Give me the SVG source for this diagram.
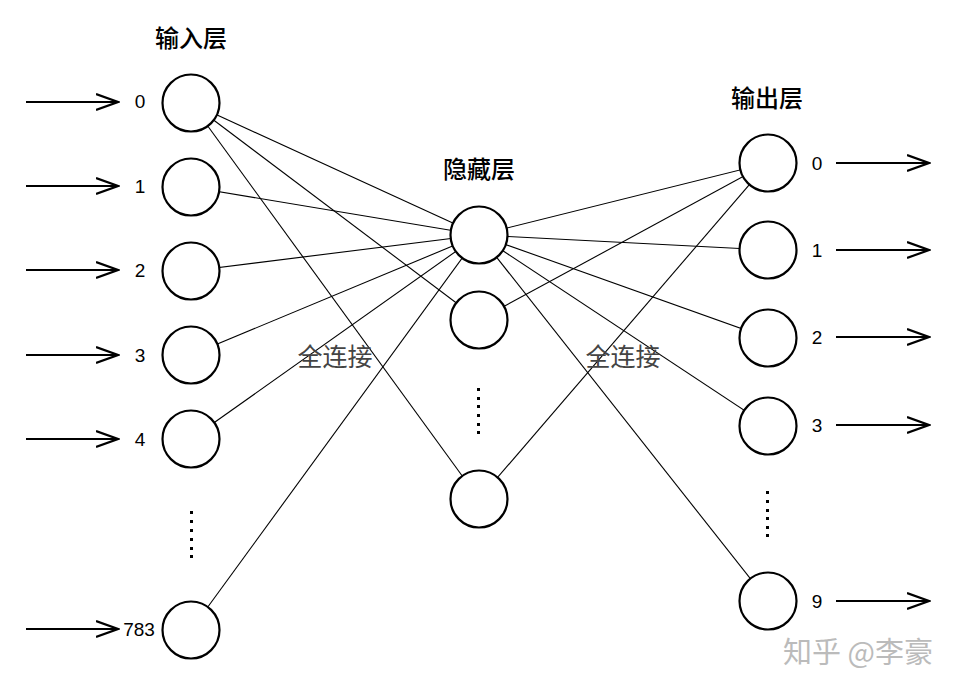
<svg xmlns="http://www.w3.org/2000/svg" width="956" height="690" viewBox="0 0 956 690">
<defs>
<style>
.node{fill:#fff;stroke:#000;stroke-width:2.2}
.edge{stroke:#000;stroke-width:1.1;fill:none}
.arr{stroke:#000;stroke-width:2.2;fill:none}
.num{font-family:"Liberation Sans","Noto Sans CJK SC",sans-serif;font-size:19px;fill:#000}
.title{font-family:"Noto Sans CJK SC",sans-serif;font-size:24px;font-weight:500;fill:#000}
.fc{font-family:"Noto Sans CJK SC",sans-serif;font-size:25px;fill:#444}
.wm{font-family:"Noto Sans CJK SC",sans-serif;font-size:29px;fill:#bbb}
.dot{fill:#000}
</style>
<marker id="chev" markerWidth="24" markerHeight="20" refX="22" refY="9" orient="auto" markerUnits="userSpaceOnUse">
<path d="M0,1 L22,9 L0,17" fill="none" stroke="#000" stroke-width="2.2"/>
</marker>
</defs>
<rect width="956" height="690" fill="#fff"/>
<g id="connectors">
<line class="edge" x1="191" y1="103" x2="479" y2="235"/>
<line class="edge" x1="191" y1="103" x2="479" y2="320"/>
<line class="edge" x1="191" y1="103" x2="479" y2="499"/>
<line class="edge" x1="191" y1="187" x2="479" y2="235"/>
<line class="edge" x1="191" y1="271" x2="479" y2="235"/>
<line class="edge" x1="191" y1="355" x2="479" y2="235"/>
<line class="edge" x1="191" y1="439" x2="479" y2="235"/>
<line class="edge" x1="191" y1="630" x2="479" y2="235"/>
<line class="edge" x1="479" y1="235" x2="768" y2="163"/>
<line class="edge" x1="479" y1="235" x2="768" y2="250"/>
<line class="edge" x1="479" y1="235" x2="768" y2="338"/>
<line class="edge" x1="479" y1="235" x2="768" y2="426"/>
<line class="edge" x1="479" y1="235" x2="768" y2="601"/>
<line class="edge" x1="479" y1="320" x2="768" y2="163"/>
<line class="edge" x1="479" y1="499" x2="768" y2="163"/>
<line class="arr" x1="26" y1="102" x2="118" y2="102" marker-end="url(#chev)"/>
<line class="arr" x1="26" y1="186" x2="118" y2="186" marker-end="url(#chev)"/>
<line class="arr" x1="26" y1="270" x2="118" y2="270" marker-end="url(#chev)"/>
<line class="arr" x1="26" y1="355" x2="118" y2="355" marker-end="url(#chev)"/>
<line class="arr" x1="26" y1="439" x2="118" y2="439" marker-end="url(#chev)"/>
<line class="arr" x1="26" y1="629" x2="118" y2="629" marker-end="url(#chev)"/>
<line class="arr" x1="836" y1="163" x2="929" y2="163" marker-end="url(#chev)"/>
<line class="arr" x1="836" y1="250" x2="929" y2="250" marker-end="url(#chev)"/>
<line class="arr" x1="836" y1="337" x2="929" y2="337" marker-end="url(#chev)"/>
<line class="arr" x1="836" y1="425" x2="929" y2="425" marker-end="url(#chev)"/>
<line class="arr" x1="836" y1="601" x2="929" y2="601" marker-end="url(#chev)"/>
</g>
<g id="input-layer">
<text class="title" x="191" y="47" text-anchor="middle">输入层</text>
<g id="in0"><circle class="node" cx="191" cy="103" r="28.5"/><text class="num" x="140" y="108" text-anchor="middle">0</text></g>
<g id="in1"><circle class="node" cx="191" cy="187" r="28.5"/><text class="num" x="140" y="193" text-anchor="middle">1</text></g>
<g id="in2"><circle class="node" cx="191" cy="271" r="28.5"/><text class="num" x="140" y="277" text-anchor="middle">2</text></g>
<g id="in3"><circle class="node" cx="191" cy="355" r="28.5"/><text class="num" x="140" y="362" text-anchor="middle">3</text></g>
<g id="in4"><circle class="node" cx="191" cy="439" r="28.5"/><text class="num" x="140" y="446" text-anchor="middle">4</text></g>
<g id="in-dots">
<rect class="dot" x="190" y="511" width="3" height="3"/><rect class="dot" x="190" y="520" width="3" height="3"/><rect class="dot" x="190" y="529" width="3" height="3"/><rect class="dot" x="190" y="538" width="3" height="3"/><rect class="dot" x="190" y="547" width="3" height="3"/><rect class="dot" x="190" y="555" width="3" height="3"/>
</g>
<g id="in783"><circle class="node" cx="191" cy="630" r="28.5"/><text class="num" x="139" y="636" text-anchor="middle">783</text></g>
</g>
<g id="hidden-layer">
<text class="title" x="479" y="178" text-anchor="middle">隐藏层</text>
<g id="h0"><circle class="node" cx="479" cy="235" r="28.5"/></g>
<g id="h1"><circle class="node" cx="479" cy="320" r="28.5"/></g>
<g id="h-dots">
<rect class="dot" x="477" y="388" width="3" height="3"/><rect class="dot" x="477" y="397" width="3" height="3"/><rect class="dot" x="477" y="405" width="3" height="3"/><rect class="dot" x="477" y="414" width="3" height="3"/><rect class="dot" x="477" y="423" width="3" height="3"/><rect class="dot" x="477" y="431" width="3" height="3"/>
</g>
<g id="h2"><circle class="node" cx="479" cy="499" r="28.5"/></g>
</g>
<g id="output-layer">
<text class="title" x="767" y="107" text-anchor="middle">输出层</text>
<g id="out0"><circle class="node" cx="768" cy="163" r="28.5"/><text class="num" x="817" y="170" text-anchor="middle">0</text></g>
<g id="out1"><circle class="node" cx="768" cy="250" r="28.5"/><text class="num" x="817" y="257" text-anchor="middle">1</text></g>
<g id="out2"><circle class="node" cx="768" cy="338" r="28.5"/><text class="num" x="817" y="344" text-anchor="middle">2</text></g>
<g id="out3"><circle class="node" cx="768" cy="426" r="28.5"/><text class="num" x="817" y="432" text-anchor="middle">3</text></g>
<g id="out-dots">
<rect class="dot" x="766" y="491" width="3" height="3"/><rect class="dot" x="766" y="500" width="3" height="3"/><rect class="dot" x="766" y="509" width="3" height="3"/><rect class="dot" x="766" y="517" width="3" height="3"/><rect class="dot" x="766" y="526" width="3" height="3"/><rect class="dot" x="766" y="534" width="3" height="3"/>
</g>
<g id="out9"><circle class="node" cx="768" cy="601" r="28.5"/><text class="num" x="817" y="608" text-anchor="middle">9</text></g>
</g>
<text class="fc" x="335" y="366" text-anchor="middle">全连接</text>
<text class="fc" x="623" y="366" text-anchor="middle">全连接</text>
<text class="wm" x="858" y="663" text-anchor="middle">知乎 @李豪</text>
</svg>
